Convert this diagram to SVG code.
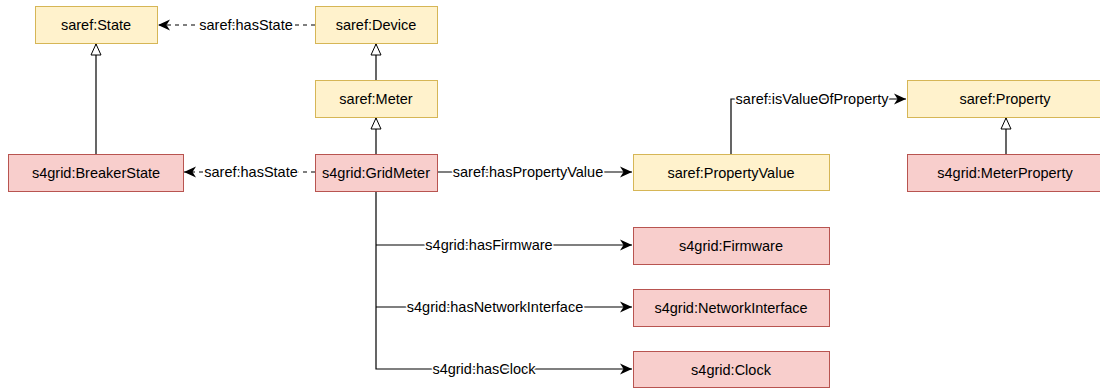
<svg xmlns="http://www.w3.org/2000/svg" width="1100" height="390" viewBox="0 0 1100 390">
<style>
text{font-family:"Liberation Sans",Arial,sans-serif;font-size:14.5px;fill:#000;text-anchor:middle;dominant-baseline:central}
.y{fill:#fff2cc;stroke:#d6b656;stroke-width:1}
.r{fill:#f8cecc;stroke:#b85450;stroke-width:1}
.e{fill:none;stroke:#000;stroke-width:1.2}
.d{stroke-dasharray:4 4}
.lbl{font-size:14.5px;stroke:#fff;stroke-width:3;paint-order:stroke;stroke-linejoin:round}
</style>
<defs>
<marker id="arr" markerWidth="14" markerHeight="12" refX="12" refY="6" orient="auto" markerUnits="userSpaceOnUse">
<path d="M0,0.5 L12,6 L0,11.5 L3.5,6 Z" fill="#000"/>
</marker>
<marker id="tri" markerWidth="14" markerHeight="14" refX="12" refY="6" orient="auto" markerUnits="userSpaceOnUse">
<path d="M1,1 L12,6 L1,11 Z" fill="#fff" stroke="#000" stroke-width="1"/>
</marker>
</defs>
<g id="connectors">
<path class="e d" d="M315,25 H158" marker-end="url(#arr)"/>
<text class="lbl" x="246" y="25">saref:hasState</text>
<path class="e d" d="M315,172 H184" marker-end="url(#arr)"/>
<text class="lbl" x="251" y="172">saref:hasState</text>
<path class="e" d="M376,80 V44" marker-end="url(#tri)"/>
<path class="e" d="M376,154 V118" marker-end="url(#tri)"/>
<path class="e" d="M96,154 V44" marker-end="url(#tri)"/>
<path class="e" d="M1006,154 V118" marker-end="url(#tri)"/>
<path class="e" d="M437,172 H632" marker-end="url(#arr)"/>
<text class="lbl" x="528" y="172">saref:hasPropertyValue</text>
<path class="e" d="M731,154 V99 H906" marker-end="url(#arr)"/>
<text class="lbl" x="812" y="99">saref:isValueOfProperty</text>
<path class="e" d="M376,191 V369 H632" marker-end="url(#arr)"/>
<path class="e" d="M376,245 H632" marker-end="url(#arr)"/>
<path class="e" d="M376,307 H632" marker-end="url(#arr)"/>
<text class="lbl" x="489" y="245">s4grid:hasFirmware</text>
<text class="lbl" x="495" y="307">s4grid:hasNetworkInterface</text>
<text class="lbl" x="484" y="369">s4grid:hasClock</text>
</g>
<g id="saref-State"><rect class="y" x="35.5" y="6.5" width="122" height="37"/><text x="96" y="25">saref:State</text></g>
<g id="saref-Device"><rect class="y" x="315.5" y="6.5" width="122" height="37"/><text x="376" y="25">saref:Device</text></g>
<g id="saref-Meter"><rect class="y" x="315.5" y="80.5" width="122" height="37"/><text x="376" y="99">saref:Meter</text></g>
<g id="s4grid-BreakerState"><rect class="r" x="8.5" y="154.5" width="175" height="37"/><text x="96" y="173">s4grid:BreakerState</text></g>
<g id="s4grid-GridMeter"><rect class="r" x="315.5" y="154.5" width="122" height="37"/><text x="376" y="173">s4grid:GridMeter</text></g>
<g id="saref-PropertyValue"><rect class="y" x="633.5" y="154.5" width="196" height="36"/><text x="731" y="172.5">saref:PropertyValue</text></g>
<g id="saref-Property"><rect class="y" x="907.5" y="80.5" width="196" height="37"/><text x="1005" y="99">saref:Property</text></g>
<g id="s4grid-MeterProperty"><rect class="r" x="907.5" y="154.5" width="196" height="37"/><text x="1005" y="173">s4grid:MeterProperty</text></g>
<g id="s4grid-Firmware"><rect class="r" x="633.5" y="227.5" width="196" height="37"/><text x="731" y="246">s4grid:Firmware</text></g>
<g id="s4grid-NetworkInterface"><rect class="r" x="633.5" y="289.5" width="196" height="37"/><text x="731" y="308">s4grid:NetworkInterface</text></g>
<g id="s4grid-Clock"><rect class="r" x="633.5" y="351.5" width="196" height="36"/><text x="731" y="369.5">s4grid:Clock</text></g>
</svg>
